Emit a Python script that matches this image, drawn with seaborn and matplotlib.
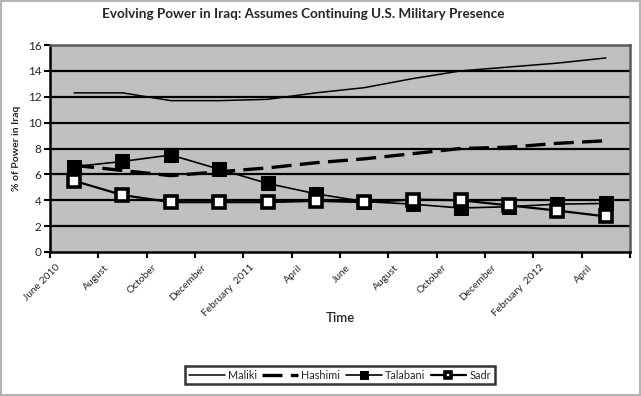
import numpy as np
import pandas as pd
import matplotlib
matplotlib.use("Agg")
import matplotlib.pyplot as plt
from matplotlib.patches import Rectangle
import seaborn as sns

periods = ["June 2010", "August", "October", "December", "February  2011", "April",
           "June", "August", "October", "December", "February  2012", "April"]
maliki = [12.3, 12.3, 11.7, 11.7, 11.8, 12.3, 12.7, 13.4, 14.0, 14.3, 14.6, 15.0]
hashimi = [6.7, 6.3, 5.9, 6.2, 6.5, 6.9, 7.2, 7.6, 8.0, 8.1, 8.4, 8.6]
talabani = [6.6, 7.0, 7.5, 6.4, 5.3, 4.5, 3.9, 3.7, 3.4, 3.5, 3.7, 3.75]
sadr = [5.5, 4.4, 3.85, 3.85, 3.85, 3.95, 3.85, 4.05, 4.0, 3.6, 3.2, 2.75]
yticks = [0, 2, 4, 6, 8, 10, 12, 14, 16]

idx = np.arange(len(periods))
df = pd.DataFrame({"period": idx, "Maliki": maliki, "Hashimi": hashimi,
                   "Talabani": talabani, "Sadr": sadr})

sns.set_theme(style="white")
plt.rcParams["font.family"] = ["Lato", "DejaVu Sans"]

fig = plt.figure(figsize=(6.41, 3.96), dpi=100)
ax = fig.add_axes([50 / 641, 1 - 252 / 396, 580 / 641, 207 / 396])
ax.set_facecolor("#c0c0c0")

sns.lineplot(data=df, x="period", y="Maliki", ax=ax, color="black", lw=1.1,
             label="Maliki", zorder=3)
sns.lineplot(data=df, x="period", y="Hashimi", ax=ax, color="black", lw=2.4,
             linestyle=(0, (6, 2.5)), label="Hashimi", zorder=3)
sns.lineplot(data=df, x="period", y="Talabani", ax=ax, color="black", lw=1.2,
             marker="s", markersize=10, markerfacecolor="black",
             markeredgecolor="black", label="Talabani", zorder=4)
sns.lineplot(data=df, x="period", y="Sadr", ax=ax, color="black", lw=1.6,
             marker="s", markersize=9, markerfacecolor="white",
             markeredgecolor="black", markeredgewidth=2.6, label="Sadr", zorder=5)

ax.set_xlim(-0.5, len(periods) - 0.5)
ax.set_ylim(0, 16)
ax.set_yticks(yticks)
ax.set_yticklabels([str(v) for v in yticks], fontsize=8.5)
for v in yticks[1:-1]:
    ax.axhline(v, color="black", lw=1.6, zorder=1)

# category boundary tick marks (minor) and shifted label positions (major)
ax.set_xticks(np.arange(len(periods) + 1) - 0.5, minor=True)
ax.set_xticks(idx - 0.38)
ax.set_xticklabels(periods, fontsize=7.4, rotation=45, ha="right",
                   va="top", rotation_mode="anchor")
ax.tick_params(axis="x", which="major", length=0, pad=8)
ax.tick_params(axis="x", which="minor", direction="out", length=4, width=1.5,
               color="black", bottom=True)
ax.tick_params(axis="y", direction="out", length=4, width=1.5, color="black",
               left=True, pad=2)
for side in ["left", "bottom"]:
    ax.spines[side].set_color("black")
    ax.spines[side].set_linewidth(1.8)
for side in ["top", "right"]:
    ax.spines[side].set_color("#5a5a5a")
    ax.spines[side].set_linewidth(1.8)

ax.set_xlabel("Time", fontsize=9.5, fontweight="semibold", va="center")
ax.xaxis.set_label_coords(0.5, -0.32)
ax.set_ylabel("% of Power in Iraq", fontsize=7.5, fontweight="bold", labelpad=5)

fig.text(303 / 641, 1 - 14 / 396, "Evolving Power in Iraq: Assumes Continuing U.S. Military Presence",
         ha="center", va="center", fontsize=9.7, fontweight="bold")

leg = ax.legend(loc="center", bbox_to_anchor=(0.5, -0.595), ncol=4, frameon=True,
                fontsize=7.8, handlelength=3.3, columnspacing=0.5, handletextpad=0.3,
                borderpad=0.35, fancybox=False, markerscale=0.55)
leg.get_frame().set_edgecolor("black")
leg.get_frame().set_linewidth(1.8)

fig.patches.append(Rectangle((0.002, 0.003), 0.996, 0.994, transform=fig.transFigure,
                             fill=False, edgecolor="#b5b5b5", lw=1.5))

fig.savefig("out.png", dpi=100, facecolor="white")
